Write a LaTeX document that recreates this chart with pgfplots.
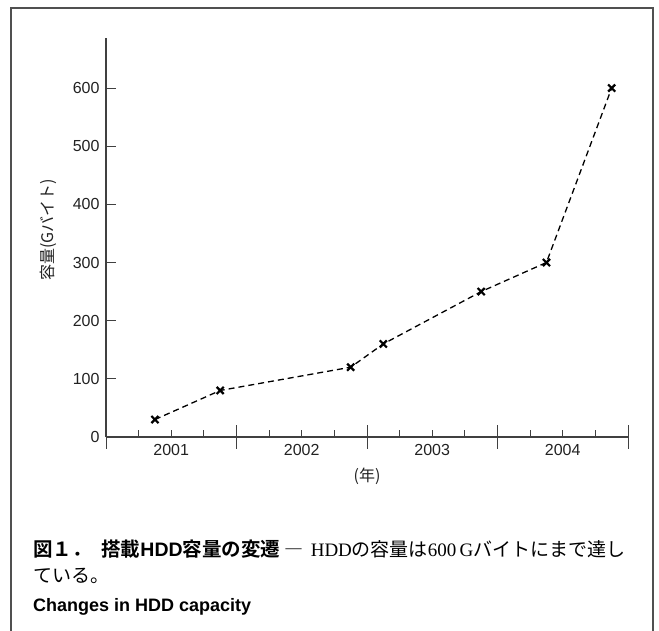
\documentclass[border=0pt]{standalone}
\usepackage{fontspec}
\usepackage{pgfplots}
\pgfplotsset{compat=1.18}
\setmainfont{Liberation Sans}
\newfontfamily\jp{Noto Sans CJK JP}[BoldFont={Noto Sans CJK JP Bold}]
\newfontfamily\serif{Liberation Serif}
\definecolor{axgray}{HTML}{404040}
\definecolor{framegray}{HTML}{505050}
\definecolor{txtgray}{HTML}{222222}
\pgfplotsset{
  common/.style={
    at={(106pt,193pt)}, anchor=south west,
    scale only axis, width=522pt, height=399pt,
    xmin=0, xmax=4, ymin=0, ymax=686,
    axis x line*=bottom, axis y line*=left,
    clip=false,
    tick style={axgray, line width=1pt},
    /pgf/number format/assume math mode=true,
    tick label style={font=\fontsize{16}{19}\selectfont, text=txtgray},
  }
}
\begin{document}
\begin{tikzpicture}
\useasboundingbox (0pt,0pt) rectangle (659pt,630pt);
\draw[framegray, line width=1.3pt] (11pt,-2pt) -- (11pt,622pt) -- (653pt,622pt) -- (653pt,-2pt);
% quarter ticks
\begin{axis}[common,
  axis line style={draw=none},
  ytick=\empty,
  xtick={0.25,0.5,0.75,1.25,1.5,1.75,2.25,2.5,2.75,3.25,3.5,3.75},
  xticklabels={},
  xtick align=inside, major tick length=7pt,
]
\end{axis}
% year boundary ticks
\begin{axis}[common,
  axis line style={draw=none},
  ytick=\empty,
  xtick={0,1,2,3,4},
  xticklabels={},
  xtick align=center, major tick length=23pt,
]
\end{axis}
% main axis
\begin{axis}[common,
  axis line style={axgray, line width=1.5pt},
  ytick={0,100,200,300,400,500,600},
  ytick align=inside, major tick length=10pt,
  yticklabel style={xshift=-3pt},
  xtick={0.5,1.5,2.5,3.5},
  xticklabels={2001,2002,2003,2004},
  xtick style={draw=none},
  xticklabel style={yshift=-3.5pt},
  xlabel={\jp (年)},
  xlabel style={at={(axis description cs:0.5,-0.099)}, anchor=center, font=\fontsize{16}{19}\selectfont, text=txtgray},
  ylabel={\jp 容量(Gバイト)},
  ylabel style={at={(axis description cs:-0.111,0.519)}, anchor=center, font=\fontsize{16}{19}\selectfont, text=txtgray},
]
\addplot[black, line width=1.3pt, dash pattern=on 6pt off 4pt,
  mark=x, mark size=5pt, mark options={solid, line width=2.2pt}]
  coordinates {(0.375,30) (0.875,80) (1.875,120) (2.125,160) (2.875,250) (3.375,300) (3.875,600)};
\end{axis}
\node[anchor=base west, inner sep=0] at (33pt,74pt)
  {{\fontsize{19.5}{22}\selectfont\jp\bfseries 図１．\hspace{0.5em}搭載{\rmfamily\bfseries HDD}容量の変遷}\hspace{0.4em}{\fontsize{19}{22}\selectfont\jp ―\hspace{0.4em}{\serif HDD}の容量は{\serif 600\,G}バイトにまで達し}};
\node[anchor=base west, inner sep=0, font=\fontsize{19}{22}\selectfont] at (33pt,48pt)
  {\jp ている。};
\node[anchor=base west, inner sep=0, font=\fontsize{18}{22}\selectfont\bfseries] at (33pt,19pt)
  {Changes in HDD capacity};
\end{tikzpicture}
\end{document}
